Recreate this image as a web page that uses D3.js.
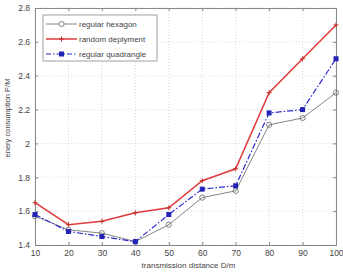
<!DOCTYPE html>
<html>
<head>
<meta charset="utf-8">
<script src="https://d3js.org/d3.v7.min.js"></script>
<style>
  body { margin: 0; background: #fff; }
  text { font-family: "Liberation Sans", Arial, sans-serif; fill: #444; }
</style>
</head>
<body>
<div id="chart"></div>
<script>
// data
const distances = [10, 20, 30, 40, 50, 60, 70, 80, 90, 100];
const hexagon = [1.57, 1.49, 1.47, 1.42, 1.52, 1.68, 1.72, 2.11, 2.15, 2.30];
const randomDeploy = [1.65, 1.52, 1.54, 1.59, 1.62, 1.78, 1.85, 2.30, 2.50, 2.70];
const quadrangle = [1.58, 1.48, 1.45, 1.42, 1.58, 1.73, 1.75, 2.18, 2.20, 2.50];
const xTicks = [10, 20, 30, 40, 50, 60, 70, 80, 90, 100];
const yTicks = [1.4, 1.6, 1.8, 2.0, 2.2, 2.4, 2.6, 2.8];
const legendNames = ["regular hexagon", "random deplyment", "regular quadrangle"];

const margin = {top: 8, right: 7, bottom: 31, left: 35},
    width = 343 - margin.left - margin.right,
    height = 276 - margin.top - margin.bottom;

let svg = d3.select("#chart")
    .append("svg")
    .attr("width", 343)
    .attr("height", 276);

let g = svg.append("g")
    .attr("transform", "translate(" + margin.left + "," + margin.top + ")");

let x = d3.scaleLinear().domain([10, 100]).range([0, width]);
let y = d3.scaleLinear().domain([1.4, 2.8]).range([height, 0]);

// dotted grid
g.append("g").selectAll("line").data(xTicks).join("line")
    .attr("x1", d => x(d)).attr("x2", d => x(d))
    .attr("y1", 0).attr("y2", height)
    .attr("stroke", "#c8c8c8").attr("stroke-width", 0.7)
    .attr("stroke-dasharray", "1,2");
g.append("g").selectAll("line").data(yTicks).join("line")
    .attr("x1", 0).attr("x2", width)
    .attr("y1", d => y(d)).attr("y2", d => y(d))
    .attr("stroke", "#c8c8c8").attr("stroke-width", 0.7)
    .attr("stroke-dasharray", "1,2");

// axes, ticks inside
let fmt = d => (Math.round(d * 10) / 10).toString();
g.append("g").attr("transform", "translate(0," + height + ")")
    .call(d3.axisBottom(x).tickValues(xTicks).tickSize(-3).tickPadding(5));
g.append("g")
    .call(d3.axisLeft(y).tickValues(yTicks).tickFormat(fmt).tickSize(-3).tickPadding(5));
g.append("g").call(d3.axisTop(x).tickValues(xTicks).tickSize(-3).tickFormat(""));
g.append("g").attr("transform", "translate(" + width + ",0)")
    .call(d3.axisRight(y).tickValues(yTicks).tickSize(-3).tickFormat(""));
g.selectAll(".domain").attr("stroke", "#888");
g.selectAll(".tick line").attr("stroke", "#888");
g.selectAll(".tick text").style("font-size", "8.5px").attr("fill", "#555");

// axis titles
svg.append("text")
    .attr("x", margin.left + width / 2 + 3).attr("y", 268)
    .attr("text-anchor", "middle").style("font-size", "8px")
    .text("transmission distance D/m");
svg.append("text")
    .attr("transform", "translate(10,118) rotate(-90)")
    .attr("text-anchor", "middle").style("font-size", "7.5px")
    .text("enery consumption P/M");

let line = d3.line().x((d, i) => x(distances[i])).y(d => y(d));

// regular hexagon
g.append("path").datum(hexagon).attr("d", line)
    .attr("fill", "none").attr("stroke", "#777").attr("stroke-width", 0.9);
g.selectAll(".hex").data(hexagon).join("circle").attr("class", "hex")
    .attr("cx", (d, i) => x(distances[i])).attr("cy", d => y(d)).attr("r", 2.6)
    .attr("fill", "none").attr("stroke", "#666").attr("stroke-width", 0.8);

// random deployment
g.append("path").datum(randomDeploy).attr("d", line)
    .attr("fill", "none").attr("stroke", "#e03a3a").attr("stroke-width", 1.5);
g.selectAll(".rnd").data(randomDeploy).join("path").attr("class", "rnd")
    .attr("transform", (d, i) => "translate(" + x(distances[i]) + "," + y(d) + ")")
    .attr("d", "M-2.5,0H2.5M0,-2.5V2.5")
    .attr("stroke", "#c0302a").attr("stroke-width", 1);

// regular quadrangle
g.append("path").datum(quadrangle).attr("d", line)
    .attr("fill", "none").attr("stroke", "#2a2ad0").attr("stroke-width", 1.2)
    .attr("stroke-dasharray", "6,2,1.5,2");
g.selectAll(".quad").data(quadrangle).join("rect").attr("class", "quad")
    .attr("x", (d, i) => x(distances[i]) - 2.5).attr("y", d => y(d) - 2.5)
    .attr("width", 5).attr("height", 5)
    .attr("fill", "#2323b8");

// legend
let legend = g.append("g").attr("transform", "translate(8,7)");
legend.append("rect").attr("width", 114).attr("height", 46)
    .attr("fill", "#fff").attr("stroke", "#888").attr("stroke-width", 0.8);
let rows = legend.selectAll(".row").data(legendNames).join("g")
    .attr("transform", (d, i) => "translate(0," + (9 + i * 15) + ")");
rows.append("line").attr("x1", 3).attr("x2", 34).attr("y1", 0).attr("y2", 0)
    .attr("stroke", (d, i) => ["#777", "#e03a3a", "#2a2ad0"][i])
    .attr("stroke-width", (d, i) => [0.9, 1.5, 1.2][i])
    .attr("stroke-dasharray", (d, i) => i === 2 ? "5,2,1.5,2" : null);
rows.filter((d, i) => i === 0).append("circle").attr("cx", 18.5).attr("r", 2.6)
    .attr("fill", "#fff").attr("stroke", "#666").attr("stroke-width", 0.8);
rows.filter((d, i) => i === 1).append("path").attr("transform", "translate(18.5,0)")
    .attr("d", "M-2.5,0H2.5M0,-2.5V2.5").attr("stroke", "#c0302a");
rows.filter((d, i) => i === 2).append("rect").attr("x", 16).attr("y", -2.5)
    .attr("width", 5).attr("height", 5).attr("fill", "#2323b8");
rows.append("text").attr("x", 36).attr("y", 2.8).style("font-size", "8px")
    .text(d => d);
</script>
</body>
</html>
